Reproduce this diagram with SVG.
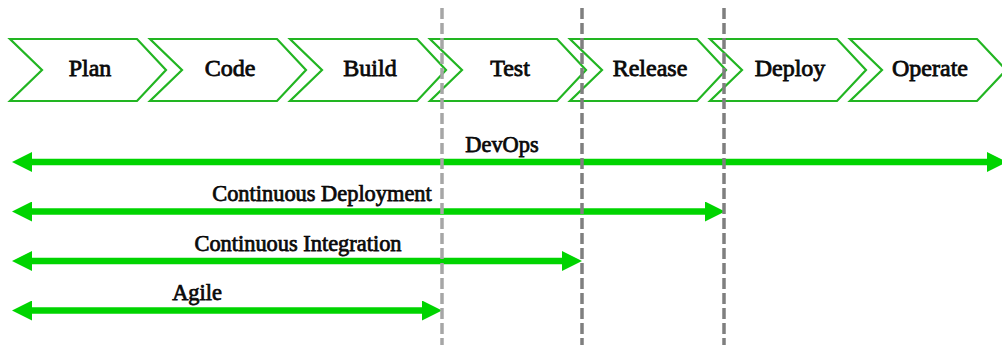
<svg xmlns="http://www.w3.org/2000/svg" width="1002" height="345" viewBox="0 0 1002 345">
<defs>
<style>
.chev{fill:#ffffff;stroke:#22b522;stroke-width:2.2;stroke-linejoin:miter}
.ctext{font-family:'Liberation Serif','Times New Roman',serif;font-size:24px;fill:#0a0a0a;stroke:#0a0a0a;stroke-width:0.8;text-anchor:middle}
.atext{font-family:'Liberation Serif','Times New Roman',serif;font-size:22.4px;fill:#0a0a0a;stroke:#0a0a0a;stroke-width:0.75;text-anchor:middle}
.arr{stroke:#00d400;stroke-width:6.5;fill:none;marker-start:url(#head);marker-end:url(#head)}
.dl{stroke:#a6a6a6;stroke-width:3.5;stroke-dasharray:11 4;fill:none}
.dd{stroke:#7f7f7f;stroke-width:3.5;stroke-dasharray:11 4;fill:none}
</style>
<marker id="head" markerUnits="userSpaceOnUse" markerWidth="20" markerHeight="20" refX="0" refY="10" orient="auto-start-reverse" viewBox="0 0 20 20">
<path d="M0,0 L20,10 L0,20 Z" fill="#00d400"/>
</marker>
</defs>
<rect width="1002" height="345" fill="#ffffff"/>
<g id="plan"><path class="chev" d="M10,39 L137,39 L166,70 L137,101 L10,101 L42,70 Z"/><text class="ctext" x="90" y="76">Plan</text></g>
<g id="code"><path class="chev" d="M150,39 L277,39 L306,70 L277,101 L150,101 L182,70 Z"/><text class="ctext" x="230" y="76">Code</text></g>
<g id="build"><path class="chev" d="M290,39 L417,39 L446,70 L417,101 L290,101 L322,70 Z"/><text class="ctext" x="370" y="76">Build</text></g>
<g id="test"><path class="chev" d="M430,39 L557,39 L586,70 L557,101 L430,101 L462,70 Z"/><text class="ctext" x="510" y="76">Test</text></g>
<g id="release"><path class="chev" d="M570,39 L697,39 L726,70 L697,101 L570,101 L602,70 Z"/><text class="ctext" x="650" y="76">Release</text></g>
<g id="deploy"><path class="chev" d="M710,39 L837,39 L866,70 L837,101 L710,101 L742,70 Z"/><text class="ctext" x="790" y="76">Deploy</text></g>
<g id="operate"><path class="chev" d="M850,39 L977,39 L1006,70 L977,101 L850,101 L882,70 Z"/><text class="ctext" x="930" y="76">Operate</text></g>
<g id="connectors">
<path class="arr" d="M32,162 L987,162"/>
<path class="arr" d="M32,211.5 L705,211.5"/>
<path class="arr" d="M32,261 L562,261"/>
<path class="arr" d="M32,310.5 L422,310.5"/>
</g>
<g id="labels">
<text class="atext" x="502" y="152">DevOps</text>
<text class="atext" x="322" y="201">Continuous Deployment</text>
<text class="atext" x="298" y="250.5">Continuous Integration</text>
<text class="atext" x="197" y="300">Agile</text>
</g>
<g id="dividers">
<path class="dl" d="M442,8 L442,345"/>
<path class="dd" d="M582,8 L582,345"/>
<path class="dd" d="M724,8 L724,345"/>
</g>
</svg>
